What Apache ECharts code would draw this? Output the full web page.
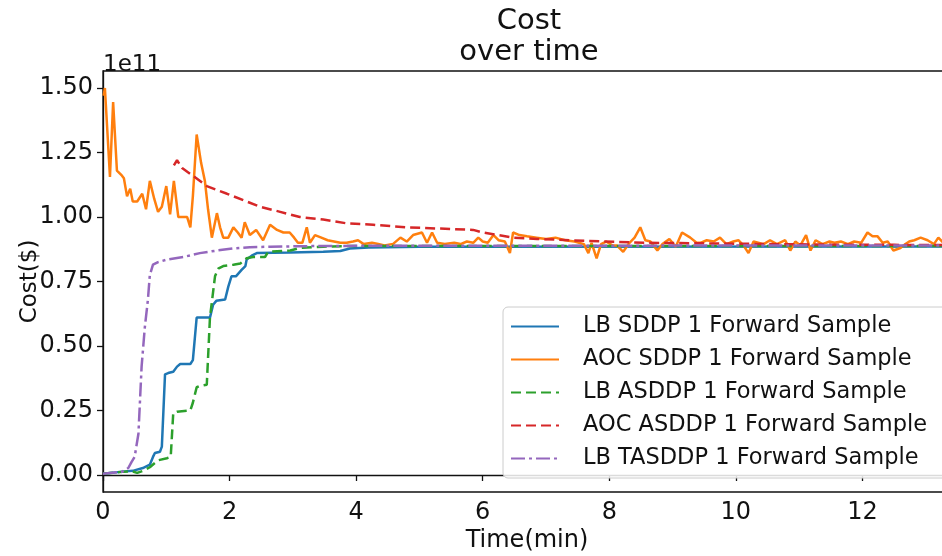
<!DOCTYPE html>
<html>
<head>
<meta charset="utf-8">
<script src="https://cdn.jsdelivr.net/npm/echarts@6/dist/echarts.min.js"></script>
<style>
  html, body { margin: 0; padding: 0; background: #fff; }
  #chart { width: 942px; height: 556px; }
</style>
</head>
<body>
<div id="chart"></div>
<script>
// values in units of 1e11 $, time in minutes
var yTicks = [0, 0.25, 0.5, 0.75, 1.0, 1.25, 1.5];

var lbSddpT = [0, 0.27, 0.47, 0.63, 0.74, 0.79, 0.82, 0.9, 0.93, 0.98, 1.03, 1.11, 1.17, 1.22, 1.38, 1.42, 1.48, 1.69, 1.74, 1.79, 1.93, 1.98, 2.03, 2.1, 2.19, 2.25, 2.27, 2.35, 2.43, 2.96, 3.48, 3.75, 3.9, 4.2, 5, 13.4];
var lbSddpCost = [0.005, 0.012, 0.016, 0.027, 0.04, 0.07, 0.085, 0.09, 0.11, 0.39, 0.395, 0.40, 0.42, 0.43, 0.43, 0.445, 0.61, 0.61, 0.66, 0.675, 0.68, 0.73, 0.77, 0.77, 0.795, 0.81, 0.835, 0.85, 0.86, 0.862, 0.865, 0.868, 0.878, 0.882, 0.885, 0.886];

var aocSddpT = [0.01, 0.03, 0.11, 0.16, 0.22, 0.30, 0.33, 0.38, 0.43, 0.47, 0.54, 0.62, 0.68, 0.74, 0.81, 0.87, 0.93, 1.00, 1.06, 1.12, 1.19, 1.26, 1.33, 1.38, 1.42, 1.48, 1.55, 1.61, 1.66, 1.72, 1.80, 1.85, 1.90, 1.98, 2.06, 2.13, 2.19, 2.24, 2.32, 2.42, 2.53, 2.64, 2.75, 2.85, 2.95, 3.02, 3.08, 3.15, 3.22, 3.27, 3.35, 3.45, 3.55, 3.65, 3.75, 3.85, 3.95, 4.03, 4.12, 4.25, 4.35, 4.45, 4.58, 4.70, 4.80, 4.90, 5.04, 5.12, 5.20, 5.28, 5.40, 5.55, 5.65, 5.75, 5.85, 5.93, 6.00, 6.08, 6.17, 6.25, 6.35, 6.43, 6.48, 6.58, 6.70, 6.85, 7.00, 7.15, 7.30, 7.45, 7.60, 7.67, 7.72, 7.80, 7.87, 7.95, 8.05, 8.12, 8.22, 8.32, 8.40, 8.49, 8.57, 8.65, 8.76, 8.84, 8.95, 9.05, 9.15, 9.28, 9.38, 9.44, 9.54, 9.65, 9.75, 9.85, 9.96, 10.04, 10.12, 10.20, 10.28, 10.44, 10.54, 10.65, 10.78, 10.86, 10.94, 11.02, 11.11, 11.18, 11.26, 11.37, 11.48, 11.56, 11.66, 11.77, 11.87, 11.98, 12.08, 12.16, 12.24, 12.32, 12.40, 12.49, 12.60, 12.68, 12.74, 12.82, 12.92, 13.03, 13.13, 13.20, 13.28, 13.38];
var aocSddpCost = [1.47, 1.50, 1.155, 1.446, 1.18, 1.16, 1.15, 1.08, 1.11, 1.06, 1.06, 1.09, 1.03, 1.14, 1.07, 1.02, 1.04, 1.12, 1.01, 1.14, 1.00, 1.00, 1.00, 0.96, 1.08, 1.32, 1.21, 1.14, 1.03, 0.92, 1.015, 0.96, 0.92, 0.92, 0.96, 0.94, 0.92, 0.98, 0.93, 0.95, 0.91, 0.97, 0.95, 0.94, 0.94, 0.92, 0.90, 0.90, 0.96, 0.90, 0.93, 0.92, 0.91, 0.905, 0.90, 0.90, 0.905, 0.91, 0.895, 0.90, 0.895, 0.89, 0.895, 0.92, 0.905, 0.93, 0.94, 0.90, 0.94, 0.90, 0.895, 0.90, 0.895, 0.905, 0.90, 0.92, 0.905, 0.90, 0.93, 0.91, 0.905, 0.86, 0.94, 0.93, 0.925, 0.92, 0.915, 0.92, 0.91, 0.905, 0.895, 0.86, 0.90, 0.84, 0.895, 0.905, 0.89, 0.89, 0.865, 0.90, 0.92, 0.96, 0.91, 0.905, 0.87, 0.895, 0.915, 0.885, 0.94, 0.92, 0.90, 0.90, 0.91, 0.905, 0.92, 0.895, 0.905, 0.91, 0.89, 0.86, 0.905, 0.895, 0.91, 0.895, 0.91, 0.87, 0.905, 0.89, 0.93, 0.87, 0.91, 0.895, 0.905, 0.90, 0.905, 0.895, 0.905, 0.90, 0.94, 0.925, 0.925, 0.90, 0.905, 0.87, 0.88, 0.895, 0.905, 0.91, 0.92, 0.91, 0.895, 0.92, 0.90, 0.91];

var lbAsddpT = [0, 0.3, 0.45, 0.54, 0.63, 0.74, 0.87, 1.01, 1.07, 1.11, 1.17, 1.38, 1.42, 1.48, 1.53, 1.64, 1.69, 1.77, 1.82, 1.9, 2.06, 2.17, 2.27, 2.37, 2.56, 2.61, 2.96, 3.11, 3.48, 4, 13.4];
var lbAsddpCost = [0.005, 0.012, 0.015, 0.008, 0.016, 0.03, 0.057, 0.065, 0.07, 0.24, 0.245, 0.25, 0.28, 0.34, 0.345, 0.35, 0.61, 0.77, 0.80, 0.81, 0.815, 0.82, 0.84, 0.845, 0.845, 0.865, 0.87, 0.88, 0.885, 0.888, 0.888];

var aocAsddpT = [1.12, 1.17, 1.25, 1.42, 1.64, 1.96, 2.27, 2.48, 2.8, 3.11, 3.48, 3.86, 4.27, 4.8, 5.33, 5.85, 6.0, 6.48, 6.86, 7.38, 7.9, 8.6, 9.49, 10.5, 11.5, 12.5, 13.4];
var aocAsddpCost = [1.20, 1.22, 1.19, 1.16, 1.12, 1.09, 1.06, 1.04, 1.02, 1.0, 0.99, 0.975, 0.97, 0.96, 0.955, 0.95, 0.94, 0.92, 0.915, 0.91, 0.905, 0.90, 0.898, 0.895, 0.893, 0.892, 0.891];

var lbTasddpT = [0, 0.3, 0.4, 0.45, 0.5, 0.56, 0.61, 0.66, 0.71, 0.74, 0.79, 0.87, 1.01, 1.27, 1.53, 1.8, 2.06, 2.32, 2.64, 3.5, 13.4];
var lbTasddpCost = [0.005, 0.012, 0.027, 0.05, 0.07, 0.16, 0.42, 0.57, 0.68, 0.775, 0.815, 0.825, 0.835, 0.845, 0.86, 0.87, 0.878, 0.883, 0.885, 0.888, 0.89];

var names = ['LB SDDP 1 Forward Sample', 'AOC SDDP 1 Forward Sample', 'LB ASDDP 1 Forward Sample', 'AOC ASDDP 1 Forward Sample', 'LB TASDDP 1 Forward Sample'];

function pairs(xs, ys) {
  return xs.map(function(x, i) { return [x, ys[i]]; });
}

var FONT = 'DejaVu Sans';
var chart = echarts.init(document.getElementById('chart'));

function line(name, data, color, type) {
  return {
    name: name, type: 'line', data: data, symbol: 'none', animation: false,
    lineStyle: { color: color, width: 2.5, type: type },
    itemStyle: { color: color }
  };
}

chart.setOption({
  backgroundColor: '#fff',
  textStyle: { fontFamily: FONT },
  title: [{
    text: 'Cost\nover time', left: 524, top: 1, textAlign: 'center',
    textStyle: { fontFamily: FONT, fontSize: 29, fontWeight: 'normal', color: '#111', lineHeight: 31 }
  }, {
    text: '1e11', left: 98, top: 49,
    textStyle: { fontFamily: FONT, fontSize: 23, fontWeight: 'normal', color: '#111' }
  }],
  grid: {
    left: 103, top: 71, right: -9, bottom: 64, containLabel: false, outerBoundsMode: 'none',
    show: true, borderColor: '#111', borderWidth: 1.3
  },
  legend: {
    orient: 'vertical', left: 503, top: 307,
    itemWidth: 48, itemHeight: 14, itemGap: 10,
    padding: [8, 30, 8, 7],
    backgroundColor: 'rgba(255,255,255,0.85)', borderColor: '#ccc', borderWidth: 1, borderRadius: 5,
    itemStyle: { opacity: 0 },
    textStyle: { fontFamily: FONT, fontSize: 22.5, color: '#111', lineHeight: 23, padding: [0, 0, 0, 19] },
    data: names
  },
  xAxis: {
    type: 'value', min: 0, max: 13.4, interval: 2,
    name: 'Time(min)', nameLocation: 'middle', nameGap: 37, nameMoveOverlap: false,
    nameTextStyle: { fontFamily: FONT, fontSize: 24, color: '#111' },
    axisLine: { show: true, lineStyle: { color: '#111', width: 1.3 } },
    axisTick: { show: true, length: 6, lineStyle: { color: '#111', width: 1.3 } },
    axisLabel: { fontFamily: FONT, fontSize: 24, color: '#111', margin: 9, showMaxLabel: false },
    splitLine: { show: false }
  },
  yAxis: {
    type: 'value', min: -0.066, max: 1.566,
    name: 'Cost($)', nameLocation: 'middle', nameGap: 61, nameMoveOverlap: false,
    nameTextStyle: { fontFamily: FONT, fontSize: 23, color: '#111' },
    axisLine: { show: true, lineStyle: { color: '#111', width: 1.3 } },
    axisTick: { show: true, length: 6, customValues: yTicks, lineStyle: { color: '#111', width: 1.3 } },
    axisLabel: {
      fontFamily: FONT, fontSize: 24, color: '#111', margin: 10, customValues: yTicks,
      formatter: function(v) { return v.toFixed(2); }
    },
    splitLine: { show: false }
  },
  series: [
    line(names[0], pairs(lbSddpT, lbSddpCost), '#1f77b4', 'solid'),
    line(names[1], pairs(aocSddpT, aocSddpCost), '#ff7f0e', 'solid'),
    line(names[2], pairs(lbAsddpT, lbAsddpCost), '#2ca02c', [10, 5]),
    line(names[3], pairs(aocAsddpT, aocAsddpCost), '#d62728', [10, 5]),
    line(names[4], pairs(lbTasddpT, lbTasddpCost), '#9467bd', [14, 4, 3, 4])
  ]
});
</script>
</body>
</html>
